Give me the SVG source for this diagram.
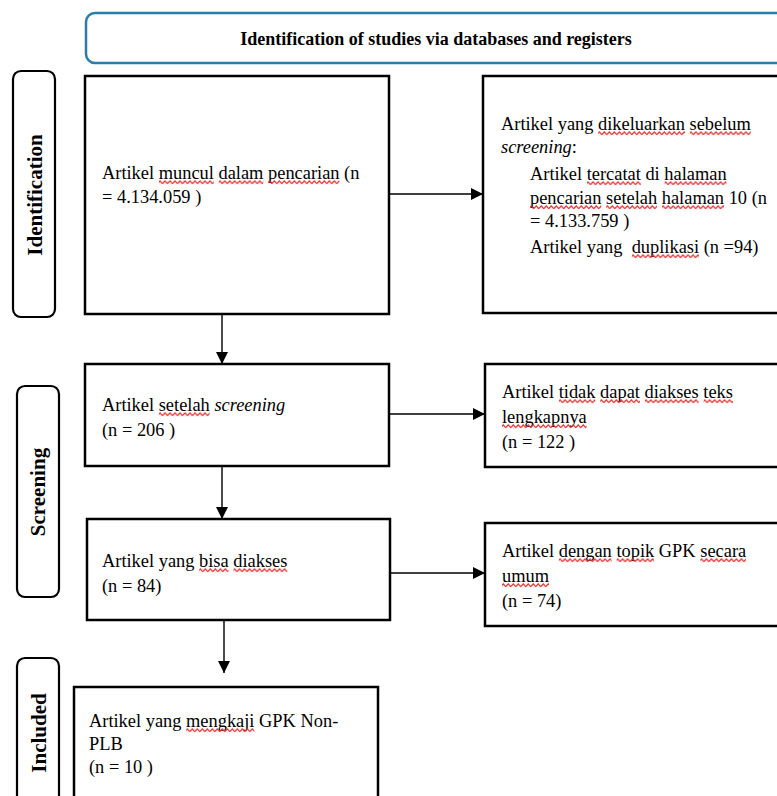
<svg xmlns="http://www.w3.org/2000/svg" width="777" height="796" viewBox="0 0 777 796">
<defs>
<style>
.box{fill:#fff;stroke:#000;stroke-width:2.5}
.side{fill:#fff;stroke:#000;stroke-width:2.2}
.hdr{fill:#fff;stroke:#2b7bab;stroke-width:2.5}
.t{font-family:"Liberation Serif","Times New Roman",serif;font-size:18.4px;fill:#000}
.b{font-family:"Liberation Serif","Times New Roman",serif;font-weight:bold;fill:#000}
.c{fill:none;stroke:#000;stroke-width:1.4}
.wv{fill:url(#wave)}
</style>
<pattern id="wave" patternUnits="userSpaceOnUse" x="0" y="0" width="5" height="4.5">
<path d="M-1.25,3.6 L1.25,0.9 L3.75,3.6 L6.25,0.9" fill="none" stroke="#e02828" stroke-width="1.1"/>
</pattern>
<marker id="ah" markerUnits="userSpaceOnUse" markerWidth="12" markerHeight="12" refX="12" refY="6" orient="auto">
<path d="M0,0 L12,6 L0,12 z" fill="#000"/>
</marker>
</defs>
<rect width="777" height="796" fill="#fff"/>

<g id="header">
<rect class="hdr" x="86" y="13" width="720" height="50" rx="9"/>
<text class="b" x="436" y="45" font-size="18" text-anchor="middle">Identification of studies via databases and registers</text>
</g>

<g id="label-identification">
<rect class="side" x="13" y="71" width="42" height="246" rx="8"/>
<text class="b" font-size="21" text-anchor="middle" transform="translate(42,195) rotate(-90)">Identification</text>
</g>
<g id="label-screening">
<rect class="side" x="17" y="386" width="42" height="211" rx="8"/>
<text class="b" font-size="21" text-anchor="middle" transform="translate(45,492) rotate(-90)">Screening</text>
</g>
<g id="label-included">
<rect class="side" x="17" y="658" width="42" height="160" rx="8"/>
<text class="b" font-size="21" text-anchor="middle" transform="translate(46,733) rotate(-90)">Included</text>
</g>

<g id="connectors">
<line class="c" x1="390" y1="194" x2="483" y2="194" marker-end="url(#ah)"/>
<line class="c" x1="222" y1="315" x2="222" y2="364" marker-end="url(#ah)"/>
<line class="c" x1="390" y1="414" x2="485" y2="414" marker-end="url(#ah)"/>
<line class="c" x1="222" y1="467" x2="222" y2="519" marker-end="url(#ah)"/>
<line class="c" x1="391" y1="573" x2="485" y2="573" marker-end="url(#ah)"/>
<line class="c" x1="224" y1="621" x2="224" y2="673" marker-end="url(#ah)"/>
</g>

<g id="node-search">
<rect class="box" x="85" y="76" width="304" height="238"/>
<text class="t" x="102" y="179">Artikel <tspan>muncul</tspan> <tspan>dalam</tspan> <tspan>pencarian</tspan> (n</text>
<text class="t" x="102" y="203">= 4.134.059 )</text>
<svg x="158.7" y="180" width="55.2" height="4.5"><rect class="wv" width="100%" height="100%"/></svg>
<svg x="218.5" y="180" width="45" height="4.5"><rect class="wv" width="100%" height="100%"/></svg>
<svg x="268.1" y="180" width="71.5" height="4.5"><rect class="wv" width="100%" height="100%"/></svg>
</g>

<g id="node-removed">
<rect class="box" x="483" y="76" width="320" height="237"/>
<text class="t" x="501" y="130">Artikel yang <tspan>dikeluarkan</tspan> <tspan>sebelum</tspan></text>
<text class="t" x="501" y="153"><tspan font-style="italic">screening</tspan>:</text>
<text class="t" x="530" y="180">Artikel <tspan>tercatat</tspan> di <tspan>halaman</tspan></text>
<text class="t" x="530" y="204"><tspan>pencarian</tspan> <tspan>setelah</tspan> <tspan>halaman</tspan> 10 (n</text>
<text class="t" x="530" y="227">= 4.133.759 )</text>
<text class="t" x="530" y="253" xml:space="preserve">Artikel yang  <tspan>duplikasi</tspan> (n =94)</text>
<svg x="598.1" y="131" width="86.9" height="4.5"><rect class="wv" width="100%" height="100%"/></svg>
<svg x="689.6" y="131" width="61.3" height="4.5"><rect class="wv" width="100%" height="100%"/></svg>
<svg x="586.7" y="181" width="54.2" height="4.5"><rect class="wv" width="100%" height="100%"/></svg>
<svg x="664.4" y="181" width="62.3" height="4.5"><rect class="wv" width="100%" height="100%"/></svg>
<svg x="530" y="205" width="71.5" height="4.5"><rect class="wv" width="100%" height="100%"/></svg>
<svg x="606.1" y="205" width="51.1" height="4.5"><rect class="wv" width="100%" height="100%"/></svg>
<svg x="661.8" y="205" width="62.3" height="4.5"><rect class="wv" width="100%" height="100%"/></svg>
<svg x="631.7" y="254" width="67.5" height="4.5"><rect class="wv" width="100%" height="100%"/></svg>
</g>

<g id="node-screened">
<rect class="box" x="85" y="364" width="304" height="102"/>
<text class="t" x="102" y="411">Artikel <tspan>setelah</tspan> <tspan font-style="italic">screening</tspan></text>
<text class="t" x="102" y="436">(n = 206 )</text>
<svg x="158.7" y="412" width="51.1" height="4.5"><rect class="wv" width="100%" height="100%"/></svg>
</g>

<g id="node-notaccessible">
<rect class="box" x="485" y="364" width="320" height="103"/>
<text class="t" x="502" y="398">Artikel <tspan>tidak</tspan> <tspan>dapat</tspan> <tspan>diakses</tspan> <tspan>teks</tspan></text>
<text class="t" x="502" y="423"><tspan>lengkapnya</tspan></text>
<text class="t" x="502" y="448">(n = 122 )</text>
<svg x="558.7" y="399" width="36.8" height="4.5"><rect class="wv" width="100%" height="100%"/></svg>
<svg x="600.1" y="399" width="39.9" height="4.5"><rect class="wv" width="100%" height="100%"/></svg>
<svg x="644.6" y="399" width="54.2" height="4.5"><rect class="wv" width="100%" height="100%"/></svg>
<svg x="703.4" y="399" width="29.6" height="4.5"><rect class="wv" width="100%" height="100%"/></svg>
<svg x="502" y="424" width="84.8" height="4.5"><rect class="wv" width="100%" height="100%"/></svg>
</g>

<g id="node-accessible">
<rect class="box" x="87" y="519" width="303" height="101"/>
<text class="t" x="102" y="567">Artikel yang <tspan>bisa</tspan> <tspan>diakses</tspan></text>
<text class="t" x="102" y="592">(n = 84)</text>
<svg x="199.1" y="568" width="29.6" height="4.5"><rect class="wv" width="100%" height="100%"/></svg>
<svg x="233.3" y="568" width="54.2" height="4.5"><rect class="wv" width="100%" height="100%"/></svg>
</g>

<g id="node-general">
<rect class="box" x="485" y="523" width="320" height="103"/>
<text class="t" x="502" y="557">Artikel <tspan>dengan</tspan> <tspan>topik</tspan> GPK <tspan>secara</tspan></text>
<text class="t" x="502" y="582"><tspan>umum</tspan></text>
<text class="t" x="502" y="607">(n = 74)</text>
<svg x="558.7" y="558" width="53.1" height="4.5"><rect class="wv" width="100%" height="100%"/></svg>
<svg x="616.4" y="558" width="37.8" height="4.5"><rect class="wv" width="100%" height="100%"/></svg>
<svg x="700.2" y="558" width="46" height="4.5"><rect class="wv" width="100%" height="100%"/></svg>
<svg x="502" y="583" width="47" height="4.5"><rect class="wv" width="100%" height="100%"/></svg>
</g>

<g id="node-included">
<rect class="box" x="74" y="687" width="304" height="130"/>
<text class="t" x="89" y="727">Artikel yang <tspan>mengkaji</tspan> GPK Non-</text>
<text class="t" x="89" y="750">PLB</text>
<text class="t" x="89" y="773">(n = 10 )</text>
<svg x="186.1" y="728" width="68.5" height="4.5"><rect class="wv" width="100%" height="100%"/></svg>
</g>
</svg>
